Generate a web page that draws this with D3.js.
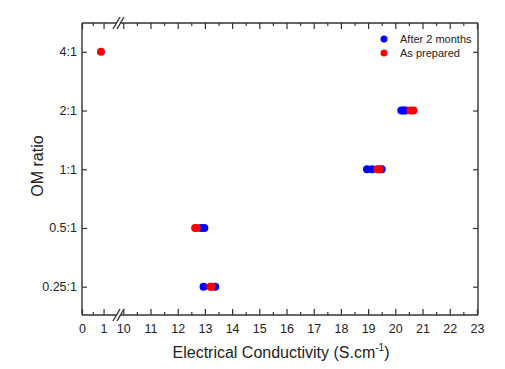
<!DOCTYPE html>
<html>
<head>
<meta charset="utf-8">
<script src="https://cdn.jsdelivr.net/npm/d3@7"></script>
<style>
  body { margin: 0; background: #fff; }
  svg { font-family: Arial, "Liberation Sans", sans-serif; }
</style>
</head>
<body>
<div id="chart"></div>
<script>
// OM ratios (y axis, log2 spaced) and their labels
var ratios = [0.25, 0.5, 1, 2, 4];
var ratioLabels = ["0.25:1", "0.5:1", "1:1", "2:1", "4:1"];

// After 2 months (blue)
var agedRatio = [0.25, 0.25, 0.5, 0.5, 1, 1, 1, 2, 2, 2];
var agedSigma = [12.95, 13.38, 12.86, 12.98, 18.96, 19.14, 19.5, 20.22, 20.3, 20.37];

// As prepared (red)
var freshRatio = [4, 0.25, 0.25, 0.5, 0.5, 1, 1, 2, 2];
var freshSigma = [0.88, 13.2, 13.25, 12.64, 12.7, 19.34, 19.42, 20.56, 20.67];

// x tick labels on each side of the break
var lowTicks = [0, 1];
var highTicks = d3.range(10, 24);

var width = 505, height = 369;
var mLeft = 82, mRight = 478, mTop = 23, mBottom = 315;
var brk1 = 116.5, brk2 = 120.5;

var svg = d3.select("#chart").append("svg")
    .attr("width", width)
    .attr("height", height);

// broken x axis: two linear pieces
var xLow = d3.scaleLinear().domain([0, 1.6]).range([mLeft, brk1]);
var xHigh = d3.scaleLinear().domain([9.897, 23.04]).range([brk2, mRight]);
function x(v) { return v < 5 ? xLow(v) : xHigh(v); }

var y = d3.scaleLog().base(2).domain([0.179, 5.62]).range([mBottom, mTop]);

var axisColor = "#333";

function styleAxis(g) {
    g.selectAll(".domain").remove();
    g.selectAll("line").attr("stroke", axisColor).attr("stroke-width", 1.2);
    g.selectAll("text").attr("font-size", 12.5).attr("fill", "#222")
        .attr("font-family", "Arial, 'Liberation Sans', sans-serif");
}

// ticks, bottom and top, pointing inwards
function xTicks(scale, major, minor) {
    var gb = svg.append("g").attr("transform", "translate(0," + mBottom + ")");
    gb.call(d3.axisBottom(scale).tickValues(major).tickSize(-6).tickPadding(9).tickFormat(d3.format("d")));
    gb.append("g").call(d3.axisBottom(scale).tickValues(minor).tickSize(-3).tickFormat(""));
    var gt = svg.append("g").attr("transform", "translate(0," + mTop + ")");
    gt.call(d3.axisTop(scale).tickValues(major).tickSize(-6).tickFormat(""));
    gt.append("g").call(d3.axisTop(scale).tickValues(minor).tickSize(-3).tickFormat(""));
    styleAxis(gb);
    styleAxis(gt);
}
xTicks(xLow, lowTicks, [0.5]);
xTicks(xHigh, highTicks, d3.range(10.5, 23, 1));

// y ticks left and right
var gl = svg.append("g").attr("transform", "translate(" + mLeft + ",0)")
    .call(d3.axisLeft(y).tickValues(ratios).tickSize(-5).tickPadding(5)
        .tickFormat(function(d, i) { return ratioLabels[i]; }));
var gr = svg.append("g").attr("transform", "translate(" + mRight + ",0)")
    .call(d3.axisRight(y).tickValues(ratios).tickSize(-5).tickFormat(""));
styleAxis(gl);
styleAxis(gr);

// frame with gaps at the break
var frame = svg.append("g").attr("stroke", axisColor).attr("stroke-width", 1.4).attr("fill", "none");
[mTop, mBottom].forEach(function(yy) {
    frame.append("line").attr("x1", mLeft).attr("x2", brk1).attr("y1", yy).attr("y2", yy);
    frame.append("line").attr("x1", brk2).attr("x2", mRight).attr("y1", yy).attr("y2", yy);
    [brk1, brk2].forEach(function(bx) {
        frame.append("line")
            .attr("x1", bx - 3.5).attr("y1", yy + 6)
            .attr("x2", bx + 3.5).attr("y2", yy - 6);
    });
});
frame.append("line").attr("x1", mLeft).attr("x2", mLeft).attr("y1", mTop).attr("y2", mBottom);
frame.append("line").attr("x1", mRight).attr("x2", mRight).attr("y1", mTop).attr("y2", mBottom);

// points
var aged = agedSigma.map(function(s, i) { return { s: s, r: agedRatio[i] }; });
var fresh = freshSigma.map(function(s, i) { return { s: s, r: freshRatio[i] }; });

svg.append("g").selectAll("circle")
    .data(aged)
    .enter()
    .append("circle")
    .attr("cx", function(d) { return x(d.s); })
    .attr("cy", function(d) { return y(d.r); })
    .attr("r", 4)
    .attr("fill", "#0000ff");

svg.append("g").selectAll("circle")
    .data(fresh)
    .enter()
    .append("circle")
    .attr("cx", function(d) { return x(d.s); })
    .attr("cy", function(d) { return y(d.r); })
    .attr("r", 4)
    .attr("fill", "#ff0000");

// legend
var legend = [["After 2 months", "#0000ff"], ["As prepared", "#ff0000"]];
var lg = svg.append("g");
legend.forEach(function(l, i) {
    lg.append("circle").attr("cx", 384).attr("cy", 39 + i * 14).attr("r", 3.5).attr("fill", l[1]);
    lg.append("text").attr("x", 400).attr("y", 43 + i * 14)
        .attr("font-size", 11).attr("fill", "#222").text(l[0]);
});

// axis titles
var xt = svg.append("text")
    .attr("x", (mLeft + mRight) / 2 + 1)
    .attr("y", 358)
    .attr("text-anchor", "middle")
    .attr("font-size", 16)
    .attr("fill", "#222");
xt.append("tspan").text("Electrical Conductivity (S.cm");
xt.append("tspan").attr("dy", -7).attr("font-size", 10).text("-1");
xt.append("tspan").attr("dy", 7).text(")");

svg.append("text")
    .attr("transform", "translate(43,166) rotate(-90)")
    .attr("text-anchor", "middle")
    .attr("font-size", 16)
    .attr("fill", "#222")
    .text("OM ratio");
</script>
</body>
</html>
